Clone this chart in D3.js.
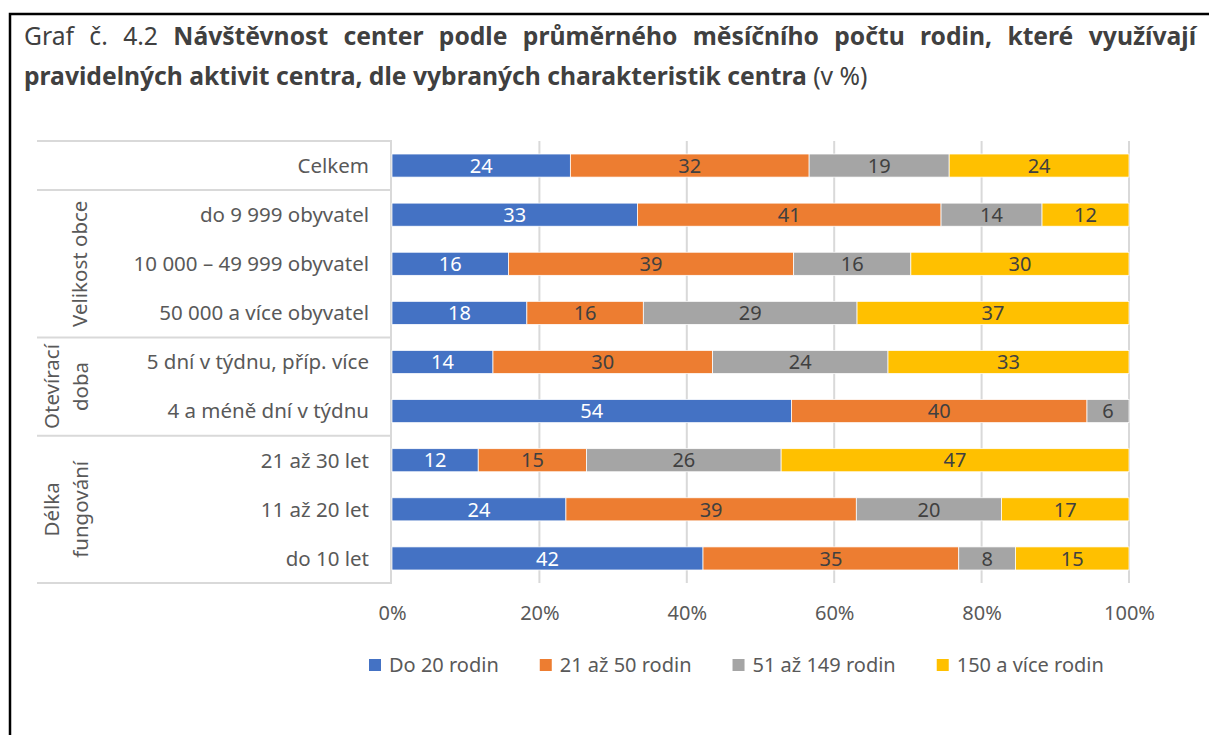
<!DOCTYPE html>
<html>
<head>
<meta charset="utf-8">
<script src="https://cdn.jsdelivr.net/npm/d3@7"></script>
<style>
  body { margin: 0; background: #fff; }
  svg { display: block; }
</style>
</head>
<body>
<script>
var width = 1209,
  height = 735;

// categories top -> bottom
var categories = ["Celkem", "do 9 999 obyvatel", "10 000 – 49 999 obyvatel", "50 000 a více obyvatel",
  "5 dní v týdnu, příp. více", "4 a méně dní v týdnu", "21 až 30 let", "11 až 20 let", "do 10 let"];
var groupOf = [0, 1, 1, 1, 2, 2, 3, 3, 3];
var groupLabels = [[], ["Velikost obce"], ["Otevírací", "doba"], ["Délka", "fungování"]];

var seriesNames = ["Do 20 rodin", "21 až 50 rodin", "51 až 149 rodin", "150 a více rodin"];
var do20 = [24.2, 33.3, 15.8, 18.3, 13.7, 54.2, 11.7, 23.6, 42.2];
var r21to50 = [32.4, 41.2, 38.7, 15.8, 29.8, 40.1, 14.7, 39.4, 34.7];
var r51to149 = [19.0, 13.7, 15.9, 29.0, 23.8, 5.7, 26.4, 19.7, 7.7];
var r150plus = [24.4, 11.8, 29.6, 36.9, 32.7, 0, 47.2, 17.3, 15.4];
var colors = ["#4472C4", "#ED7D31", "#A5A5A5", "#FFC000"];
var labelColors = ["#ffffff", "#404040", "#404040", "#404040"];

var tickValues = [0, 20, 40, 60, 80, 100];

var titleLine1 = [["Graf č. 4.2", false], ["Návštěvnost center podle průměrného měsíčního počtu rodin, které využívají", true]];
var titleLine2 = [["pravidelných aktivit centra, dle vybraných charakteristik centra", true], [" (v %)", false]];

var font = "'Noto Sans', 'Open Sans', sans-serif";

var svg = d3.select("body").append("svg")
  .attr("width", width)
  .attr("height", height)
  .style("font-family", font);

// frame
svg.append("rect")
  .attr("x", 10).attr("y", 14)
  .attr("width", 1260).attr("height", 800)
  .attr("fill", "none")
  .attr("stroke", "#000")
  .attr("stroke-width", 2.5);

// ---- title ----
var tLeft = 24, tRight = 1196, line2Right = 868;

var t2 = svg.append("text").attr("x", tLeft).attr("y", 85).attr("fill", "#404040").attr("font-size", 20);
titleLine2.forEach(function(p) {
  t2.append("tspan").attr("font-weight", p[1] ? "bold" : "normal").text(p[0]);
});
var fs = 20 * (line2Right - tLeft) / t2.node().getComputedTextLength();
fs = Math.max(17, Math.min(25, fs));
t2.attr("font-size", fs);

// first line justified word by word
var words = [];
titleLine1.forEach(function(p) {
  p[0].split(" ").forEach(function(w) { words.push([w, p[1]]); });
});
var wNodes = svg.append("g").selectAll("text")
  .data(words)
  .enter().append("text")
  .attr("y", 45)
  .attr("fill", "#404040")
  .attr("font-size", fs)
  .attr("font-weight", function(d) { return d[1] ? "bold" : "normal"; })
  .text(function(d) { return d[0]; });
var wWidths = wNodes.nodes().map(function(n) { return n.getComputedTextLength(); });
var gap = (tRight - tLeft - d3.sum(wWidths)) / (words.length - 1);
var cx = tLeft;
wNodes.attr("x", function(d, i) {
  var x0 = cx;
  cx += wWidths[i] + gap;
  return x0;
});

// ---- scales ----
var x = d3.scaleLinear().domain([0, 100]).range([392, 1129]);
var y = d3.scaleBand().domain(categories).range([141, 583]).paddingInner(0.53).paddingOuter(0.265);
var step = y.step();

// gridlines
svg.append("g").selectAll("line")
  .data(tickValues.slice(1))
  .enter().append("line")
  .attr("x1", function(d) { return x(d); })
  .attr("x2", function(d) { return x(d); })
  .attr("y1", 141).attr("y2", 583)
  .attr("stroke", "#d9d9d9")
  .attr("stroke-width", 2);

// category table lines
var boundaries = [0, 1, 4, 6, 9];
svg.append("g").selectAll("line")
  .data(boundaries)
  .enter().append("line")
  .attr("x1", 37).attr("x2", 391)
  .attr("y1", function(d) { return 141 + d * step; })
  .attr("y2", function(d) { return 141 + d * step; })
  .attr("stroke", "#d9d9d9")
  .attr("stroke-width", 2);
svg.append("line")
  .attr("x1", 391).attr("x2", 391)
  .attr("y1", 140).attr("y2", 584)
  .attr("stroke", "#d9d9d9")
  .attr("stroke-width", 2);

// stacked data
var table = categories.map(function(c, i) {
  return { cat: c, s0: do20[i], s1: r21to50[i], s2: r51to149[i], s3: r150plus[i] };
});
var stack = d3.stack().keys(["s0", "s1", "s2", "s3"])(table);

var layer = svg.append("g").selectAll("g")
  .data(stack)
  .enter().append("g")
  .attr("fill", function(d, i) { return colors[i]; });

layer.selectAll("rect")
  .data(function(d) { return d.filter(function(e) { return e[1] - e[0] > 0; }); })
  .enter().append("rect")
  .attr("x", function(d) { return x(d[0]); })
  .attr("width", function(d) { return x(d[1]) - x(d[0]); })
  .attr("y", function(d) { return y(d.data.cat); })
  .attr("height", y.bandwidth())
  .attr("stroke", "#fff")
  .attr("stroke-width", 0.75);

layer.selectAll("text")
  .data(function(d, i) {
    return d.filter(function(e) { return e[1] - e[0] > 0; }).map(function(e) { e.si = i; return e; });
  })
  .enter().append("text")
  .attr("x", function(d) { return (x(d[0]) + x(d[1])) / 2; })
  .attr("y", function(d) { return y(d.data.cat) + y.bandwidth() / 2; })
  .attr("dy", "0.36em")
  .attr("text-anchor", "middle")
  .attr("font-size", 20)
  .attr("fill", function(d) { return labelColors[d.si]; })
  .text(function(d) { return Math.round(d[1] - d[0]); });

// category labels
svg.append("g").selectAll("text")
  .data(categories)
  .enter().append("text")
  .attr("x", 369)
  .attr("y", function(d) { return y(d) + y.bandwidth() / 2; })
  .attr("dy", "0.36em")
  .attr("text-anchor", "end")
  .attr("font-size", 20.5)
  .attr("fill", "#595959")
  .text(function(d) { return d; });

// group labels (rotated)
groupLabels.forEach(function(lines, g) {
  if (!lines.length) return;
  var idx = groupOf.map(function(v, i) { return v === g ? i : -1; }).filter(function(i) { return i >= 0; });
  var yc = 141 + step * (idx[0] + idx[idx.length - 1] + 1) / 2;
  var xs = lines.length === 1 ? [80] : [52, 81];
  lines.forEach(function(l, k) {
    svg.append("text")
      .attr("transform", "translate(" + xs[k] + "," + yc + ") rotate(-90)")
      .attr("dy", "0.36em")
      .attr("text-anchor", "middle")
      .attr("font-size", 20.5)
      .attr("fill", "#595959")
      .text(l);
  });
});

// x axis
var axis = d3.axisBottom(x)
  .tickValues(tickValues)
  .tickFormat(function(d) { return d + "%"; })
  .tickSize(0)
  .tickPadding(23);

var gAxis = svg.append("g")
  .attr("transform", "translate(0,583)")
  .call(axis);
gAxis.select(".domain").remove();
gAxis.selectAll("text")
  .attr("font-size", 20)
  .attr("font-family", font)
  .attr("fill", "#595959");

// legend
var legend = svg.append("g").attr("transform", "translate(369,665)");
var lx = 0;
seriesNames.forEach(function(name, i) {
  var item = legend.append("g").attr("transform", "translate(" + lx + ",0)");
  item.append("rect")
    .attr("x", 0).attr("y", -6)
    .attr("width", 12).attr("height", 12)
    .attr("fill", colors[i]);
  var t = item.append("text")
    .attr("x", 20)
    .attr("dy", "0.36em")
    .attr("font-size", 20)
    .attr("fill", "#595959")
    .text(name);
  lx += 20 + t.node().getComputedTextLength() + 41;
});
</script>
</body>
</html>
